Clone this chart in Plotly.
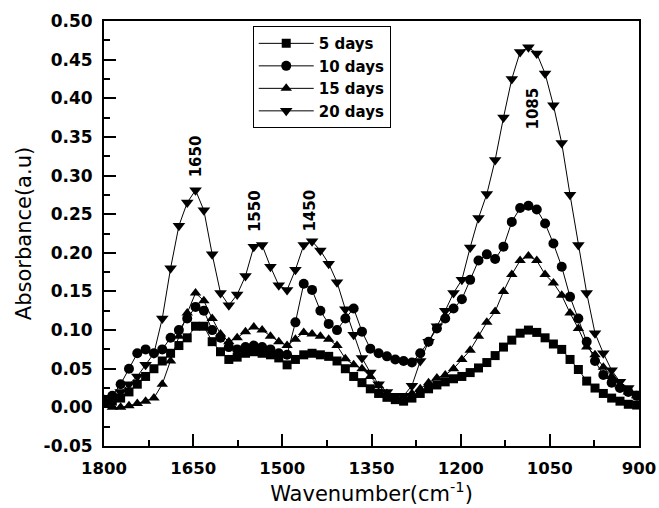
import plotly.graph_objects as go

wavenumber = [1800, 1786, 1772, 1758, 1744, 1730, 1716, 1702, 1688, 1674, 1660, 1646, 1632,
              1618, 1604, 1590, 1576, 1562, 1548, 1534, 1520, 1506, 1492, 1478, 1464, 1450,
              1436, 1422, 1408, 1394, 1380, 1366, 1352, 1338, 1324, 1310, 1296, 1282, 1268,
              1254, 1240, 1226, 1212, 1198, 1184, 1170, 1156, 1142, 1128, 1114, 1100, 1086,
              1072, 1058, 1044, 1030, 1016, 1002, 988, 974, 960, 946, 932, 918, 904]

days_5 = [0.010, 0.008, 0.012, 0.020, 0.030, 0.040, 0.050, 0.060, 0.070, 0.080, 0.090, 0.105, 0.105,
          0.085, 0.072, 0.062, 0.065, 0.070, 0.072, 0.070, 0.068, 0.064, 0.055, 0.062, 0.068, 0.070,
          0.068, 0.066, 0.060, 0.050, 0.040, 0.032, 0.024, 0.018, 0.013, 0.010, 0.008, 0.012, 0.018,
          0.024, 0.029, 0.033, 0.037, 0.040, 0.045, 0.051, 0.058, 0.067, 0.078, 0.087, 0.096, 0.100,
          0.097, 0.090, 0.082, 0.075, 0.062, 0.049, 0.034, 0.025, 0.018, 0.012, 0.008, 0.004, 0.003]

days_10 = [0.010, 0.015, 0.030, 0.050, 0.070, 0.075, 0.070, 0.075, 0.090, 0.100, 0.115, 0.130, 0.125,
           0.100, 0.090, 0.078, 0.075, 0.078, 0.080, 0.078, 0.075, 0.070, 0.068, 0.110, 0.160, 0.152,
           0.125, 0.108, 0.100, 0.115, 0.128, 0.098, 0.076, 0.070, 0.066, 0.062, 0.060, 0.058, 0.070,
           0.085, 0.102, 0.115, 0.128, 0.140, 0.165, 0.190, 0.198, 0.192, 0.208, 0.240, 0.258, 0.261,
           0.256, 0.238, 0.212, 0.182, 0.143, 0.115, 0.085, 0.060, 0.042, 0.032, 0.025, 0.020, 0.015]

days_15 = [0.005, 0.000, 0.000, 0.002, 0.005, 0.008, 0.012, 0.030, 0.060, 0.092, 0.122, 0.148, 0.138,
           0.115, 0.095, 0.085, 0.090, 0.098, 0.104, 0.100, 0.092, 0.085, 0.080, 0.088, 0.097, 0.095,
           0.092, 0.088, 0.080, 0.063, 0.055, 0.050, 0.040, 0.028, 0.018, 0.012, 0.012, 0.018, 0.024,
           0.032, 0.038, 0.042, 0.050, 0.062, 0.074, 0.092, 0.110, 0.124, 0.150, 0.172, 0.190, 0.196,
           0.190, 0.172, 0.161, 0.145, 0.122, 0.102, 0.078, 0.068, 0.052, 0.040, 0.028, 0.020, 0.015]

days_20 = [0.008, 0.012, 0.020, 0.030, 0.040, 0.055, 0.070, 0.115, 0.180, 0.235, 0.265, 0.281, 0.255,
           0.198, 0.148, 0.132, 0.146, 0.170, 0.208, 0.210, 0.182, 0.158, 0.152, 0.178, 0.210, 0.215,
           0.203, 0.186, 0.162, 0.127, 0.094, 0.064, 0.045, 0.030, 0.020, 0.015, 0.015, 0.028, 0.060,
           0.085, 0.105, 0.125, 0.148, 0.165, 0.207, 0.245, 0.276, 0.320, 0.375, 0.425, 0.460, 0.466,
           0.458, 0.432, 0.391, 0.342, 0.275, 0.210, 0.148, 0.096, 0.070, 0.048, 0.033, 0.025, 0.018]

series_names = ["5 days", "10 days", "15 days", "20 days"]
series_values = [days_5, days_10, days_15, days_20]
symbols = ["square", "circle", "triangle-up", "triangle-down"]
sizes = [9, 10, 10, 11]

peak_labels = ["1650", "1550", "1450", "1085"]
peak_x = [1645, 1546, 1453, 1078]
peak_y = [0.325, 0.254, 0.255, 0.387]

y_tick_vals = [-0.05, 0.00, 0.05, 0.10, 0.15, 0.20, 0.25, 0.30, 0.35, 0.40, 0.45, 0.50]
y_tick_text = ["-0.05", "0.00", "0.05", "0.10", "0.15", "0.20", "0.25", "0.30", "0.35", "0.40", "0.45", "0.50"]
x_tick_vals = [1800, 1650, 1500, 1350, 1200, 1050, 900]

BOLD = "DejaVu Sans"

fig = go.Figure()
for name, vals, sym, sz in zip(series_names, series_values, symbols, sizes):
    fig.add_trace(go.Scatter(
        x=wavenumber, y=vals, name=name, mode="lines+markers",
        line=dict(color="black", width=1),
        marker=dict(symbol=sym, size=sz, color="black"),
    ))

for t, px, py in zip(peak_labels, peak_x, peak_y):
    fig.add_annotation(x=px, y=py, text=t, showarrow=False, textangle=-90,
                       font=dict(family=BOLD, size=15, color="black", weight="bold"))

fig.update_layout(
    width=659, height=508, autosize=False,
    margin=dict(l=104, r=20, t=21, b=62, autoexpand=False),
    paper_bgcolor="white", plot_bgcolor="white",
    showlegend=True,
    legend=dict(x=0.278, y=0.988, xanchor="left", yanchor="top",
                bordercolor="black", borderwidth=1, bgcolor="white",
                font=dict(family=BOLD, size=15, color="black", weight="bold"),
                tracegroupgap=0, itemwidth=55),
    xaxis=dict(range=[1800, 900], tickvals=x_tick_vals, ticks="inside", ticklen=12, tickwidth=2,
               tickcolor="black", showline=True, linecolor="black", linewidth=2, mirror=True,
               showgrid=False, zeroline=False, ticklabeloverflow="allow", ticklabelstandoff=6,
               automargin=False,
               tickfont=dict(family=BOLD, size=16.5, color="black", weight="bold"),
               minor=dict(ticks="inside", ticklen=6, tickwidth=2, dtick=75, tickcolor="black"),
               title=dict(text="Wavenumber(cm<sup>-1</sup>)", standoff=4,
                          font=dict(family="DejaVu Sans", size=21, color="black"))),
    yaxis=dict(range=[-0.05, 0.50], tickvals=y_tick_vals, ticktext=y_tick_text,
               ticks="inside", ticklen=12, tickwidth=2,
               tickcolor="black", showline=True, linecolor="black", linewidth=2, mirror=True,
               showgrid=False, zeroline=False, ticklabelstandoff=6, automargin=False,
               tickfont=dict(family=BOLD, size=17, color="black", weight="bold"),
               minor=dict(ticks="inside", ticklen=6, tickwidth=2, dtick=0.025, tickcolor="black"),
               title=dict(text="Absorbance(a.u)", standoff=6,
                          font=dict(family="DejaVu Sans", size=21, color="black"))),
)

fig.write_html(
    "out.html",
    config={"displayModeBar": False, "responsive": False},
    post_script="document.body.style.margin='0';"
                "document.body.style.overflow='hidden';"
                "document.documentElement.style.overflow='hidden';",
)
